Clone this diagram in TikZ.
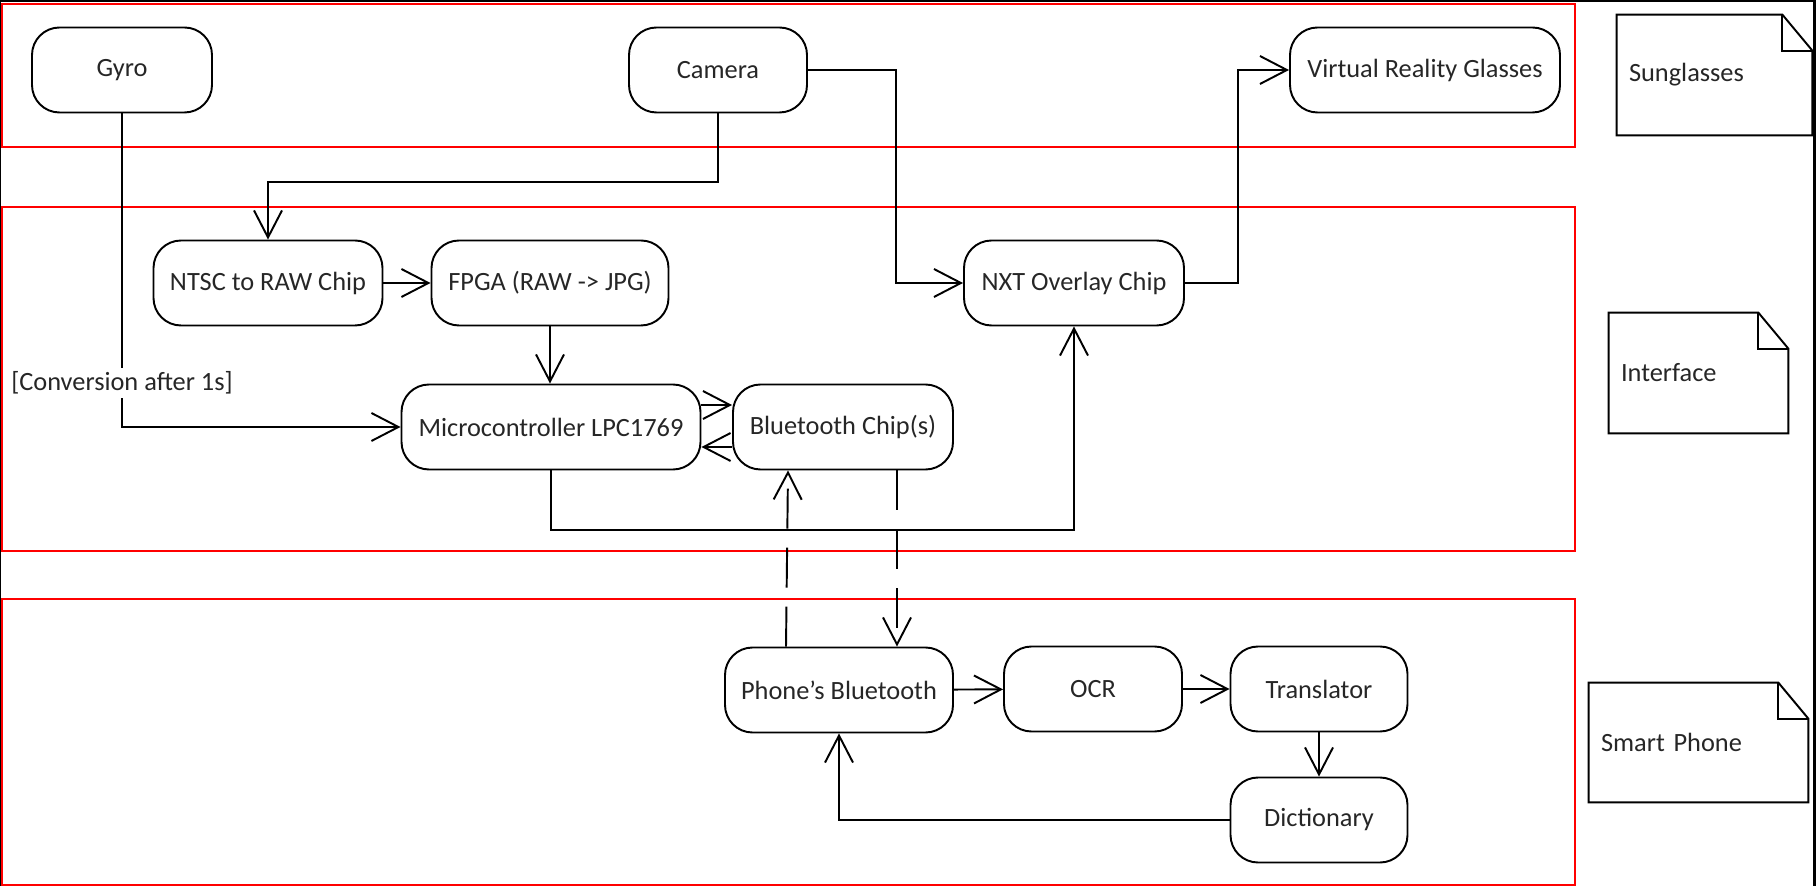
\documentclass[tikz,border=0pt]{standalone}
\usepackage{fontspec}
\setmainfont{Carlito}
\usetikzlibrary{arrows.meta,calc}

\tikzset{
  act/.style={draw, line width=1.1pt, rounded corners=0.55cm, inner sep=0pt,
    minimum height=1.7cm, text=black!85, font=\fontsize{15}{18}\selectfont},
  flow/.style={line width=1.1pt, -{Straight Barb[length=0.54cm,width=0.56cm]}},
  wireless/.style={flow, dash pattern=on 0.8cm off 0.38cm},
  lane/.style={draw=red, line width=1.1pt},
  memo/.style={inner xsep=0.24cm, inner ysep=0pt, align=left, text=black!85,
    font=\fontsize{15}{18}\selectfont},
  lbl/.style={fill=white, inner xsep=1pt, inner ysep=2pt, text=black!85,
    font=\fontsize{15}{18}\selectfont}
}

\begin{document}
\begin{tikzpicture}
\useasboundingbox (0,0) rectangle (36.32,17.72);
%\draw[step=1cm,gray,very thin] (0,0) grid (36.32,17.72); %background grid

% lanes
\draw[lane] (0.04,17.64) rectangle (31.5,14.78);
\draw[lane] (0.04,13.58) rectangle (31.5,6.7);
\draw[lane] (0.04,5.74) rectangle (31.5,0.02);

% sunglasses
\node[act, minimum width=3.6cm]  (gyro) at (2.44,16.32) {Gyro};
\node[act, minimum width=3.56cm] (cam)  at (14.36,16.32) {Camera};
\node[act, minimum width=5.4cm]  (vrg)  at (28.5,16.32) {Virtual Reality Glasses};

% interface
\node[act, minimum width=4.58cm] (ntsc)  at (5.36,12.06) {NTSC to RAW Chip};
\node[act, minimum width=4.74cm] (fpga)  at (11.0,12.06) {FPGA (RAW -> JPG)};
\node[act, minimum width=4.4cm]  (nxt)   at (21.48,12.06) {NXT Overlay Chip};
\node[act, minimum width=5.98cm] (micro) at (11.02,9.18) {Microcontroller LPC1769};
\node[act, minimum width=4.4cm]  (bt)    at (16.86,9.18) {Bluetooth Chip(s)};

% smart phone
\node[act, minimum width=4.56cm] (pbt)   at (16.78,3.92) {Phone’s Bluetooth};
\node[act, minimum width=3.56cm] (ocr)   at (21.86,3.94) {OCR};
\node[act, minimum width=3.54cm] (trans) at (26.38,3.94) {Translator};
\node[act, minimum width=3.54cm] (dict)  at (26.38,1.32) {Dictionary};

% notes
\node[memo, text width=3.42cm, minimum height=2.4cm]  (sun)   at (34.29,16.22) {Sunglasses};
\node[memo, text width=3.1cm,  minimum height=2.4cm]  (intf)  at (33.97,10.26) {Interface};
\node[memo, text width=3.9cm,  minimum height=2.38cm] (phone) at (33.97,2.87) {Smart Phone};
\foreach \n in {sun,intf,phone}{
  \draw[line width=1.1pt] (\n.south west) -- (\n.north west) -- ([xshift=-0.6cm]\n.north east)
    -- ([yshift=-0.72cm]\n.north east) -- (\n.south east) -- cycle;
  \draw[line width=1.1pt] ([xshift=-0.6cm]\n.north east) |- ([yshift=-0.72cm]\n.north east);
}

% flows
\draw[flow] (gyro.south) |- node[pos=0.43, lbl] (conv) {[Conversion after 1s]} (micro.west);
\draw[flow] (cam.south) -- ++(0,-1.38) -| (ntsc.north);
\draw[flow] (cam.east) -- ++(1.76,0) |- (nxt.west);
\draw[flow] (nxt.east) -- ++(1.06,0) |- (vrg.west);
\draw[flow] (ntsc) -- (fpga);
\draw[flow] (fpga.south) -- (fpga.south |- micro.north);
\draw[flow] ([yshift=0.44cm]micro.east) -- ([yshift=0.44cm]bt.west);
\draw[flow] ([yshift=-0.4cm]bt.west) -- ([yshift=-0.4cm]micro.east);
\draw[flow] (micro.south) -- ++(0,-1.2) -| (nxt.south);
\draw[wireless] ([xshift=-1.06cm]pbt.north) -- ([xshift=-1.1cm]bt.south);
\draw[wireless] ([xshift=1.08cm]bt.south) -- ([xshift=1.08cm]bt.south |- pbt.north);
\draw[flow] (pbt) -- (ocr);
\draw[flow] (ocr) -- (trans);
\draw[flow] (trans) -- (dict);
\draw[flow] (dict.west) -| (pbt.south);

% screen edges
\fill (0,0) rectangle (0.03,17.72);
\fill (0,17.67) rectangle (36.32,17.72);
\fill (36.26,0) rectangle (36.32,17.72);
\end{tikzpicture}
\end{document}
